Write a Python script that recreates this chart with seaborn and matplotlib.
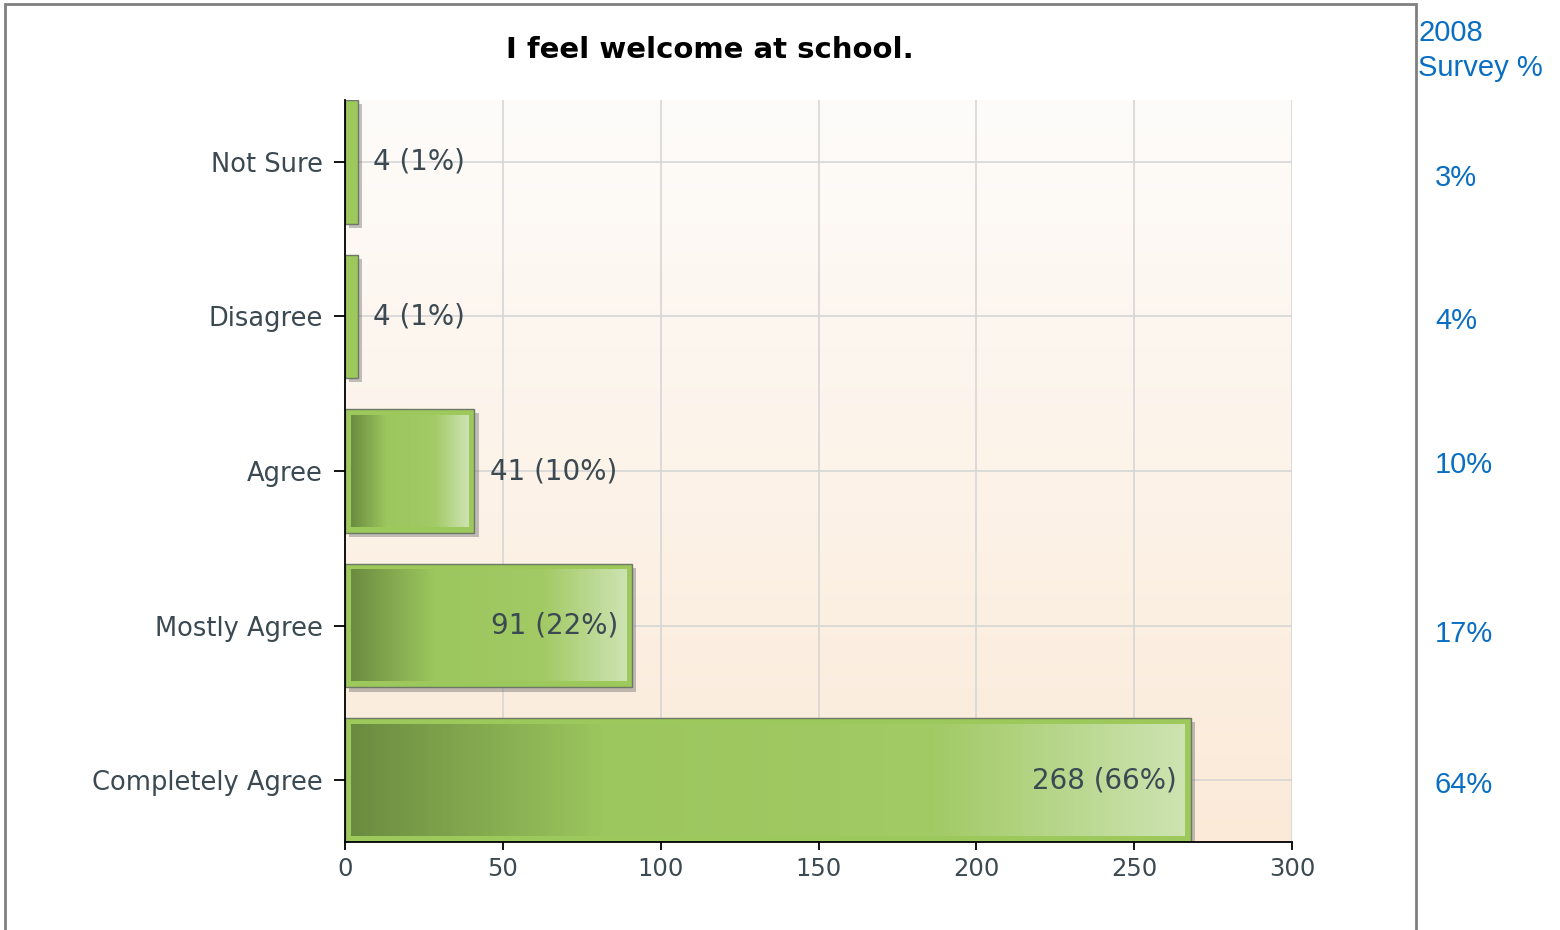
import numpy as np
import pandas as pd
import matplotlib
matplotlib.use("Agg")
import matplotlib.pyplot as plt
import matplotlib.patheffects as pe
from matplotlib.colors import LinearSegmentedColormap
from matplotlib.patches import Rectangle
import seaborn as sns

# data
categories = ["Not Sure", "Disagree", "Agree", "Mostly Agree", "Completely Agree"]
counts = [4, 4, 41, 91, 268]
percents = [1, 1, 10, 22, 66]
survey_2008 = ["3%", "4%", "10%", "17%", "64%"]
x_ticks = [0, 50, 100, 150, 200, 250, 300]

df = pd.DataFrame({"answer": categories, "count": counts})

sns.set_theme(style="white")
plt.rcParams["font.family"] = ["DejaVu Sans"]

text_col = "#3b4a52"
blue = "#0a6fc2"

fig = plt.figure(figsize=(15.6, 9.3), dpi=100)
W, H = 1560, 930
ax = fig.add_axes([345 / W, 1 - 842 / H, (1292 - 345) / W, (842 - 100) / H])

# peach background gradient
bg = LinearSegmentedColormap.from_list("bg", ["#fefcfa", "#fbead8"])
ax.imshow(np.linspace(0, 1, 256).reshape(-1, 1), cmap=bg, aspect="auto",
          extent=[0, 1, 0, 1], transform=ax.transAxes, zorder=0)

sns.barplot(data=df, x="count", y="answer", orient="h", width=0.8,
            color="#9cc85c", saturation=1, edgecolor="#6e7866", linewidth=1,
            ax=ax, zorder=2)

shadow = [pe.SimplePatchShadow(offset=(3, -3), shadow_rgbFace="#777777", alpha=0.45),
          pe.Normal()]
for p in ax.patches:
    p.set_path_effects(shadow)

# horizontal gradient inside each bar
green = LinearSegmentedColormap.from_list(
    "green", [(0, "#6b8c40"), (0.3, "#9cc65e"), (0.7, "#a2ca65"), (1, "#cde3b2")])
px_x = (1292 - 345) / 300
px_y = (842 - 100) / 4.8
inset_x, inset_y = 6 / px_x, 6 / px_y
for i, v in enumerate(counts):
    x0, x1 = inset_x, v - inset_x
    if x1 - x0 < 5:
        continue
    ax.imshow(np.linspace(0, 1, 256).reshape(1, -1), cmap=green, aspect="auto",
              extent=[x0, x1, i + 0.4 - inset_y, i - 0.4 + inset_y], zorder=3)

# value labels
for i, (v, p) in enumerate(zip(counts, percents)):
    lab = f"{v} ({p}%)"
    if v > 80:
        ax.annotate(lab, (v, i), xytext=(-10, 0), textcoords="offset points",
                    ha="right", va="center", fontsize=20, color=text_col, zorder=4)
    else:
        ax.annotate(lab, (v, i), xytext=(11, 0), textcoords="offset points",
                    ha="left", va="center", fontsize=20, color=text_col, zorder=4)

ax.set_xlim(0, 300)
ax.set_ylim(4.4, -0.4)
ax.set_xticks(x_ticks)
ax.set_xlabel("")
ax.set_ylabel("")
ax.set_axisbelow(True)
ax.grid(True, color="#d6d6d6", linewidth=1.2)
for s in ["top", "right"]:
    ax.spines[s].set_visible(False)
for s in ["left", "bottom"]:
    ax.spines[s].set_color("black")
    ax.spines[s].set_linewidth(1.3)
    ax.spines[s].set_zorder(5)
ax.tick_params(axis="y", length=8, width=1.3, color="black", pad=8,
               labelsize=18.5, labelcolor=text_col, left=True)
ax.tick_params(axis="x", length=6, width=1.3, color="black", pad=5,
               labelsize=17.5, labelcolor=text_col, bottom=True)

fig.text(710 / W, 1 - 50 / H, "I feel welcome at school.", ha="center", va="center",
         fontsize=21, fontweight="bold", color="black")

# outer frame
fig.patches.append(Rectangle((5 / W, -0.01), (1416 - 5) / W, 1.01 - 4 / H,
                             transform=fig.transFigure, fill=False,
                             edgecolor="#808080", linewidth=2))

# 2008 survey column
fig.text(1418 / W, 1 - 33 / H, "2008", ha="left", va="center", fontsize=21,
         color=blue, family="Liberation Sans")
fig.text(1418 / W, 1 - 68 / H, "Survey %", ha="left", va="center", fontsize=21,
         color=blue, family="Liberation Sans")
for lab, yp in zip(survey_2008, [178, 321, 465, 634, 785]):
    fig.text(1435 / W, 1 - yp / H, lab, ha="left", va="center", fontsize=21,
             color=blue, family="Liberation Sans")

fig.savefig("out.png", dpi=100)
